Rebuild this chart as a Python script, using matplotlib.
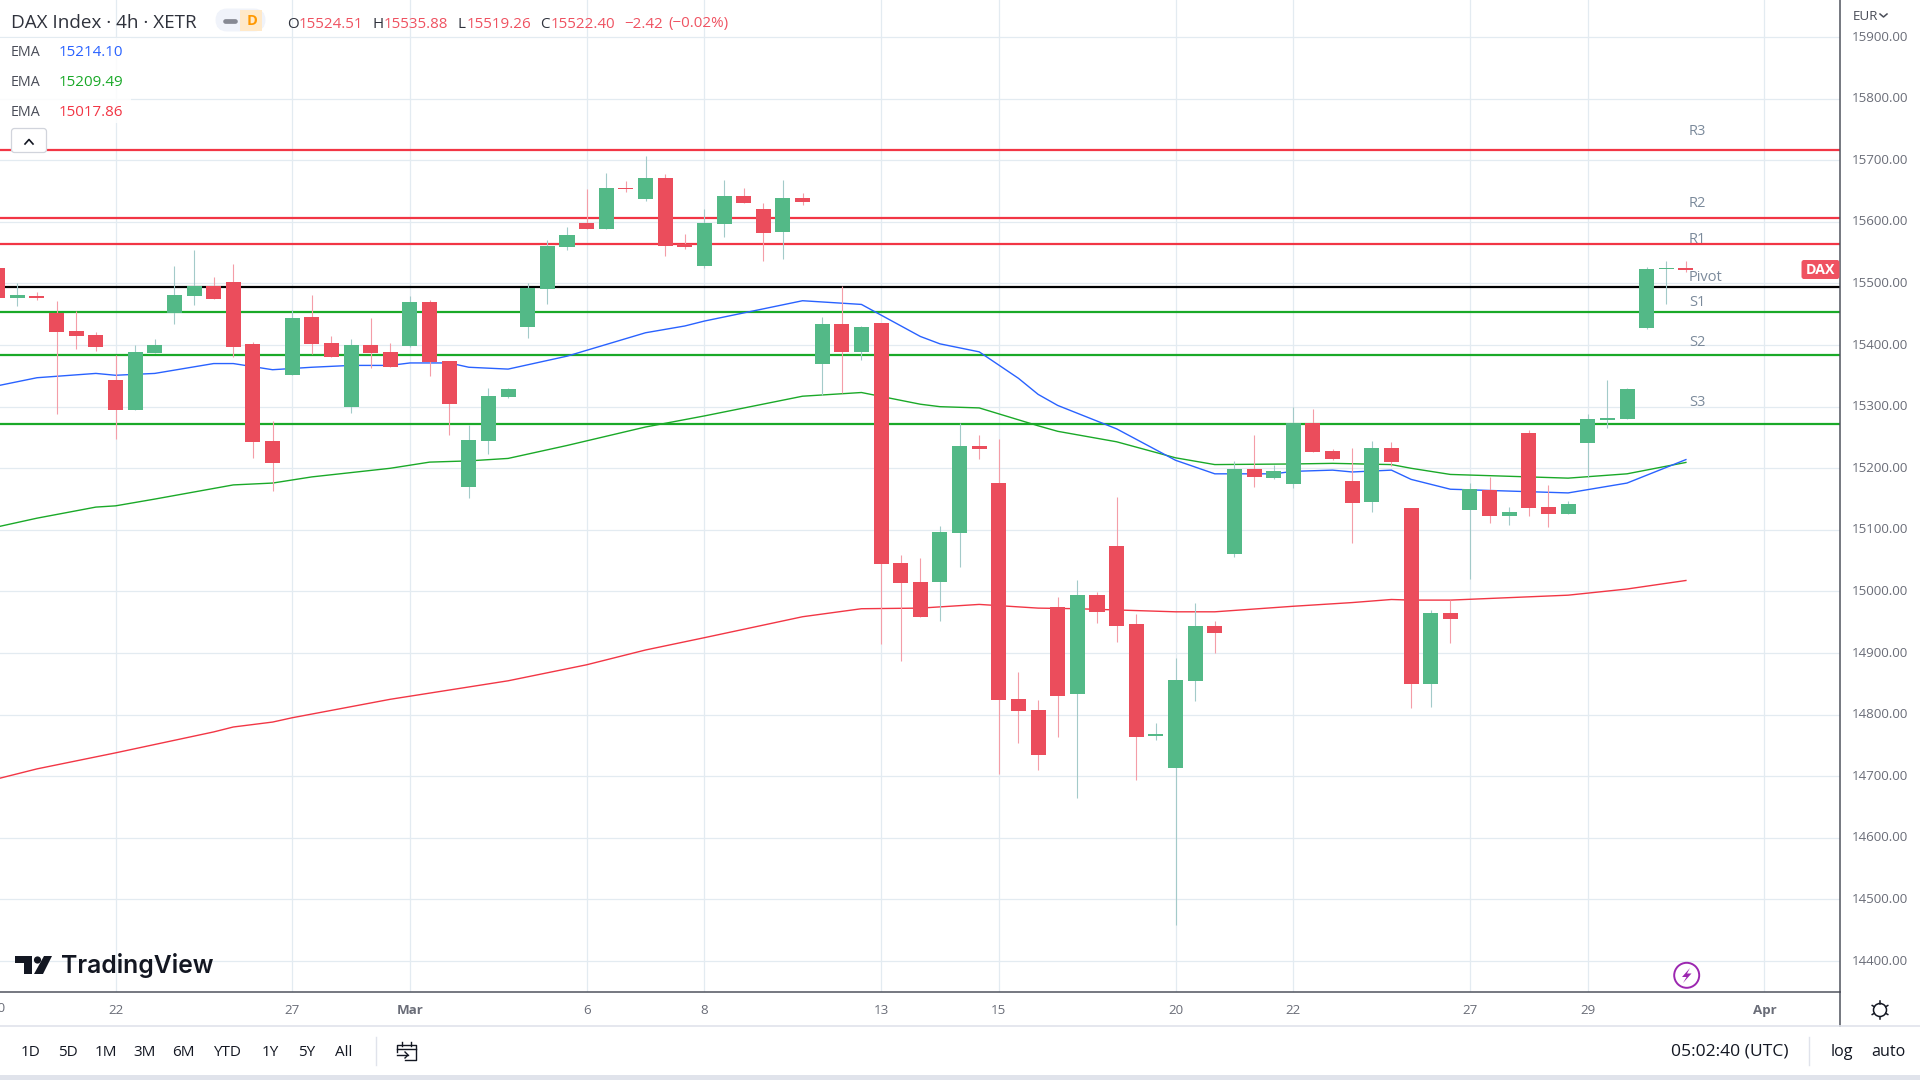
import numpy as np
import matplotlib
matplotlib.use('Agg')
import matplotlib.pyplot as plt
from matplotlib.patches import Rectangle, FancyBboxPatch, Circle, Polygon

plt.rcParams['font.family'] = ['Open Sans', 'DejaVu Sans']

# 4h candles, index 0 = Feb 22
bar_idx = np.arange(-6, 81)
opens = [15525, 15476, 15480, 15452, 15423, 15416, 15343, 15295, 15387, 15452, 15480, 15496, 15502, 15402, 15244,
         15351, 15446, 15403, 15300, 15400, 15389, 15399, 15470, 15374, 15170, 15244, 15316, 15429, 15491, 15559,
         15598, 15588, 15655, 15637, 15671, 15564, 15528, 15597, 15642, 15621, 15584, 15639, 15369, 15434, 15389,
         15436, 15046, 15015, 15015, 15095, 15236, 15176, 14825, 14808, 14975, 14834, 14994, 15074, 14947, 14765,
         14713, 14855, 14944, 15061, 15199, 15184, 15175, 15274, 15228, 15179, 15145, 15233, 15136, 14850, 14965,
         15132, 15165, 15122, 15257, 15137, 15126, 15241, 15278, 15280, 15428, 15523, 15524.51]
highs = [15525, 15500, 15486, 15472, 15455, 15421, 15384, 15400, 15410, 15528, 15554, 15511, 15532, 15405, 15277,
         15457, 15481, 15415, 15410, 15444, 15403, 15480, 15473, 15374, 15270, 15330, 15330, 15501, 15571, 15591,
         15653, 15679, 15666, 15707, 15678, 15580, 15621, 15668, 15655, 15631, 15668, 15647, 15446, 15496, 15431,
         15436, 15059, 15054, 15106, 15273, 15254, 15248, 14869, 14824, 14991, 15019, 14999, 15153, 14963, 14786,
         14892, 14981, 14952, 15212, 15254, 15205, 15300, 15296, 15231, 15233, 15244, 15243, 15136, 14970, 14986,
         15176, 15186, 15137, 15262, 15173, 15147, 15288, 15343, 15330, 15527, 15536, 15535.88]
lows = [15477, 15464, 15473, 15288, 15394, 15390, 15248, 15295, 15387, 15434, 15465, 15475, 15381, 15217, 15163,
        15351, 15386, 15381, 15290, 15363, 15364, 15397, 15350, 15254, 15152, 15223, 15314, 15412, 15467, 15554,
        15588, 15588, 15648, 15634, 15545, 15556, 15525, 15575, 15631, 15536, 15540, 15627, 15319, 15322, 15376,
        14915, 14887, 14959, 14952, 15040, 15215, 14704, 14754, 14710, 14764, 14665, 14949, 14918, 14694, 14759,
        14459, 14822, 14900, 15056, 15170, 15183, 15168, 15226, 15213, 15079, 15129, 15204, 14811, 14812, 14916,
        15020, 15111, 15108, 15122, 15105, 15126, 15186, 15265, 15280, 15426, 15467, 15519.26]
closes = [15477, 15481, 15476, 15421, 15415, 15397, 15295, 15389, 15400, 15481, 15496, 15475, 15397, 15243, 15209,
          15444, 15402, 15381, 15400, 15387, 15364, 15470, 15373, 15304, 15246, 15317, 15329, 15493, 15561, 15579,
          15588, 15655, 15653, 15671, 15561, 15559, 15598, 15642, 15631, 15582, 15639, 15632, 15434, 15389, 15429,
          15045, 15014, 14959, 15097, 15236, 15231, 14824, 14806, 14735, 14830, 14994, 14967, 14944, 14764, 14769,
          14856, 14944, 14933, 15199, 15186, 15196, 15274, 15226, 15215, 15144, 15233, 15210, 14850, 14965, 14955,
          15166, 15122, 15129, 15136, 15126, 15142, 15280, 15282, 15329, 15523, 15525, 15522.40]

# EMA vertices (bar index, price)
blue_idx = [-6, -4, -1, 0, 2, 5, 6, 8, 10, 12, 14, 15, 17, 18, 20, 23, 27, 29, 30, 35, 38, 41, 42, 44, 46, 47, 48,
            51, 54, 56, 59, 60, 62, 63, 65, 66, 68, 71, 74, 77, 80]
blue_ema = [15334, 15347, 15354, 15351, 15354, 15370, 15370, 15360, 15364, 15367, 15367, 15371, 15371, 15364, 15361,
            15382, 15420, 15431, 15439, 15472, 15466, 15414, 15402, 15389, 15346, 15320, 15302, 15264, 15213, 15191,
            15191, 15195, 15197, 15194, 15197, 15182, 15166, 15163, 15160, 15176, 15214.10]
green_idx = [-6, -4, -1, 0, 2, 6, 8, 10, 14, 16, 18, 20, 23, 27, 29, 30, 35, 38, 41, 42, 44, 47, 48, 51, 54, 56, 60,
             62, 65, 66, 68, 71, 74, 77, 80]
green_ema = [15105, 15119, 15137, 15139, 15150, 15173, 15176, 15186, 15200, 15210, 15212, 15216, 15237, 15267, 15279,
             15285, 15317, 15323, 15304, 15300, 15298, 15269, 15260, 15243, 15217, 15206, 15207, 15208, 15206, 15200,
             15190, 15187, 15184, 15191, 15209.49]
red_idx = [-6, -4, 0, 5, 6, 8, 9, 14, 15, 20, 24, 27, 30, 35, 38, 41, 44, 47, 49, 53, 54, 56, 60, 63, 65, 66, 68, 74,
           77, 80]
red_ema = [14696, 14712, 14738, 14772, 14780, 14788, 14795, 14825, 14830, 14855, 14881, 14905, 14925, 14959, 14972,
           14973, 14979, 14973, 14972, 14968, 14967, 14967, 14976, 14982, 14987, 14986, 14986, 14994, 15004, 15017.86]

# pivot levels
level_names = ['R3', 'R2', 'R1', 'Pivot', 'S1', 'S2', 'S3']
level_values = [15717, 15606, 15564, 15494, 15454, 15384, 15272]
level_colors = ['#f23645', '#f23645', '#f23645', '#000000', '#1aa928', '#1aa928', '#1aa928']
level_label_y = [131.5, 203.5, 239.5, 277.5, 302.5, 342.5, 403]

price_ticks = np.arange(14400, 16000, 100)
time_idx = [0, 9, 15, 24, 30, 39, 45, 54, 60, 69, 75, 84]
time_labels = ['22', '27', 'Mar', '6', '8', '13', '15', '20', '22', '27', '29', 'Apr']

range_buttons = ['1D', '5D', '1M', '3M', '6M', 'YTD', '1Y', '5Y', 'All']
range_x = [30.6, 67.8, 106, 145, 183.7, 227, 270.6, 307, 344]

GREEN = '#53b987'
RED = '#eb4d5c'
GRID = '#e3ebf1'
AXIS = '#50535e'

fig = plt.figure(figsize=(19.2, 10.8), dpi=100, facecolor='white')
ax = fig.add_axes([0, 88 / 1080, 1840 / 1920, 992 / 1080])
ax.set_xlim(-5.884, 87.85)
ax.set_ylim(14349.8, 15960.2)

ax.set_yticks(price_ticks, [f'{p:.2f}' for p in price_ticks])
ax.yaxis.tick_right()
ax.set_xticks(time_idx, time_labels)
ax.tick_params(axis='y', length=0, pad=8.6, labelsize=9.6, labelcolor='#6a6d78')
ax.tick_params(axis='x', length=0, pad=8.8, labelsize=9.6, labelcolor='#6a6d78')
for lab in ax.get_yticklabels():
    lab.set_y(lab.get_position()[1])
    lab.set_verticalalignment('center')
for lab in ax.get_xticklabels():
    if lab.get_text() in ('Mar', 'Apr'):
        lab.set_fontweight('bold')
ax.grid(True, color=GRID, linewidth=0.9, zorder=0)
ax.set_axisbelow(True)
for side in ('top', 'left'):
    ax.spines[side].set_visible(False)
for side in ('right', 'bottom'):
    ax.spines[side].set_color(AXIS)
    ax.spines[side].set_linewidth(1.1)

for val, col in zip(level_values, level_colors):
    ax.axhline(val, color=col, linewidth=1.6, zorder=1)

ax.plot(red_idx, red_ema, color='#f23645', linewidth=1.0, zorder=2)
ax.plot(green_idx, green_ema, color='#1aa928', linewidth=1.0, zorder=2)
ax.plot(blue_idx, blue_ema, color='#2962ff', linewidth=1.0, zorder=2)

o = np.array(opens)
c = np.array(closes)
up = c >= o
wick_cols = ['#a3cac9' if u else '#f49da7' for u in up]
body_cols = [GREEN if u else RED for u in up]
ax.vlines(bar_idx, lows, highs, colors=wick_cols, linewidth=0.8, zorder=3)
ax.bar(bar_idx, np.abs(c - o), bottom=np.minimum(o, c), width=0.765, color=body_cols, linewidth=0, zorder=4)

# everything around the chart, in screen pixels
ui = fig.add_axes([0, 0, 1, 1], facecolor='none')
ui.set_xlim(0, 1920)
ui.set_ylim(1080, 0)
ui.axis('off')

ui.plot([1840, 1840], [992, 1026], color=AXIS, linewidth=1.1)
ui.plot([0, 1920], [1026, 1026], color='#e0e3eb', linewidth=1.2)
ui.add_patch(Rectangle((0, 1075), 1920, 5, color='#e0e3eb', lw=0))
ui.text(-2.3, 1008.5, '20', ha='center', va='center', fontsize=9.6, color='#6a6d78')

# header
ui.text(11, 22.5, 'DAX Index · 4h · XETR', ha='left', va='center', fontsize=13.55, color='#2f323c')
ui.add_patch(FancyBboxPatch((219, 12), 43, 16, boxstyle='round,pad=0,rounding_size=8', fc='#f0f3fa', ec='#f0f3fa', lw=5))
ui.add_patch(Rectangle((240, 9.5), 22, 21, color='#ffe9c9', lw=0))
ui.plot([225, 235], [20.5, 20.5], color='#868993', linewidth=3.4, solid_capstyle='round')
ui.text(252, 21, 'D', ha='center', va='center', fontsize=10.5, color='#ff9800', fontweight='bold')

ohlc_keys = ['O', 'H', 'L', 'C']
ohlc_key_x = [286.7, 372, 457.7, 540]
ohlc_vals = ['15524.51', '15535.88', '15519.26', '15522.40']
ohlc_val_x = [299, 383.7, 466.8, 551]
for k, kx, v, vx in zip(ohlc_keys, ohlc_key_x, ohlc_vals, ohlc_val_x):
    ui.text(kx, 24, k, ha='left', va='center', fontsize=10.9, color='#2f323c')
    ui.text(vx, 24, v, ha='left', va='center', fontsize=10.9, color='#ef5261')
ui.text(624, 24, '−2.42', ha='left', va='center', fontsize=10.9, color='#ef5261')
ui.text(668, 24, '(−0.02%)', ha='left', va='center', fontsize=10.9, color='#ef5261')

# EMA legend
ui.add_patch(Rectangle((0, 38), 131, 85, color='white', alpha=0.85, lw=0))
ema_rows = [(52.2, '15214.10', '#2962ff'), (82.2, '15209.49', '#1aa928'), (112.2, '15017.86', '#f23645')]
for y, val, col in ema_rows:
    ui.text(11, y, 'EMA', ha='left', va='center', fontsize=10.3, color='#4a4d58')
    ui.text(58.7, y, val, ha='left', va='center', fontsize=10.9, color=col)
ui.add_patch(FancyBboxPatch((11.5, 128.5), 35, 24, boxstyle='round,pad=0,rounding_size=3', fc='white', ec='#d1d4dc', lw=0.9))
ui.plot([25, 29, 33], [144, 139.5, 144], color='#131722', linewidth=1.2)

# pivot labels
for name, y in zip(level_names, level_label_y):
    ui.text(1689, y, name, ha='left', va='center', fontsize=10.5, color='#7b8a9b')

# last price tag
ui.add_patch(FancyBboxPatch((1802, 260.5), 37, 18, boxstyle='round,pad=0,rounding_size=2', fc='#ef5261', ec='#ef5261', lw=0.7))
ui.text(1820, 270.5, 'DAX', ha='center', va='center', fontsize=10.2, color='white', fontweight='bold')
ui.text(1853, 17, 'EUR', ha='left', va='center', fontsize=9.6, color='#4a4d58')
ui.plot([1880, 1883.5, 1887], [14, 17, 14], color='#4a4d58', linewidth=1.1)

# logo
ui.add_patch(Rectangle((15, 956), 17, 7, color='#131722', lw=0))
ui.add_patch(Rectangle((24, 956), 8, 18, color='#131722', lw=0))
ui.add_patch(Circle((37.5, 960), 3.6, color='#131722', lw=0))
ui.add_patch(Polygon([(44, 956), (52, 956), (43, 974), (34, 974)], color='#131722', lw=0))
ui.text(61, 966, 'TradingView', ha='left', va='center', fontsize=17.8, color='#131722', fontfamily='Inter', fontweight='semibold')

# lightning button
ui.add_patch(Circle((1686.7, 975.3), 12.5, fc='white', ec='#9c27b0', lw=1.4))
ui.add_patch(Polygon([(1690, 968), (1682, 977), (1686.5, 977), (1683, 983), (1691.5, 973.5), (1687, 973.5)], color='#9c27b0', lw=0))

# gear
ui.add_patch(Circle((1880, 1010), 6.5, fc='white', ec='#131722', lw=1.1))
for ang in np.arange(0, 360, 60) + 30:
    rad = np.deg2rad(ang)
    ui.plot([1880 + 6.5 * np.cos(rad), 1880 + 9 * np.cos(rad)], [1010 + 6.5 * np.sin(rad), 1010 + 9 * np.sin(rad)],
            color='#131722', linewidth=1.1)

# bottom toolbar
for lab, x in zip(range_buttons, range_x):
    ui.text(x, 1052, lab, ha='center', va='center', fontsize=11, color='#131722')
ui.plot([375.5, 375.5], [1037, 1065], color='#e0e3eb', linewidth=1)
ui.plot([1809.3, 1809.3], [1037, 1065], color='#e0e3eb', linewidth=1)
ui.plot([397, 397, 416, 416, 405], [1052, 1045, 1045, 1060, 1060], color='#131722', linewidth=1)
ui.plot([397, 416], [1049, 1049], color='#131722', linewidth=1)
ui.plot([402, 402], [1042, 1046], color='#131722', linewidth=1)
ui.plot([411, 411], [1042, 1046], color='#131722', linewidth=1)
ui.plot([397, 408], [1055, 1055], color='#131722', linewidth=1)
ui.plot([405, 408, 405], [1052, 1055, 1058], color='#131722', linewidth=1)
ui.text(1730, 1052, '05:02:40 (UTC)', ha='center', va='center', fontsize=12.6, color='#131722')
ui.text(1842, 1052, 'log', ha='center', va='center', fontsize=11.6, color='#131722')
ui.text(1888.7, 1052, 'auto', ha='center', va='center', fontsize=11.6, color='#131722')

fig.savefig('out.png', dpi=100)
